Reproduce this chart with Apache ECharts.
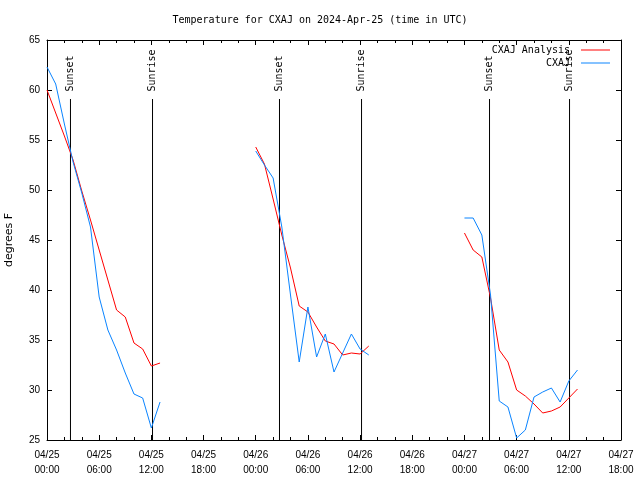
<!DOCTYPE html>
<html><head><meta charset="utf-8">
<script src="https://cdn.jsdelivr.net/npm/echarts@6/dist/echarts.min.js"></script>
<style>html,body{margin:0;padding:0;background:#fff}#c{width:640px;height:480px}</style>
</head><body><div id="c"></div>
<script>
const titleText = 'Temperature for CXAJ on 2024-Apr-25 (time in UTC)';
const axisStart = '2024-04-25T00:00Z';
const obsTimes = [
  '2024-04-25T00:00Z','2024-04-25T01:00Z','2024-04-25T02:00Z','2024-04-25T03:00Z','2024-04-25T04:00Z','2024-04-25T05:00Z','2024-04-25T06:00Z',
  '2024-04-25T07:00Z','2024-04-25T08:00Z','2024-04-25T09:00Z','2024-04-25T10:00Z','2024-04-25T11:00Z','2024-04-25T12:00Z','2024-04-25T13:00Z',
  '2024-04-26T00:00Z','2024-04-26T01:00Z','2024-04-26T02:00Z','2024-04-26T03:00Z','2024-04-26T04:00Z','2024-04-26T05:00Z','2024-04-26T06:00Z',
  '2024-04-26T07:00Z','2024-04-26T08:00Z','2024-04-26T09:00Z','2024-04-26T10:00Z','2024-04-26T11:00Z','2024-04-26T12:00Z','2024-04-26T13:00Z',
  '2024-04-27T00:00Z','2024-04-27T01:00Z','2024-04-27T02:00Z','2024-04-27T03:00Z','2024-04-27T04:00Z','2024-04-27T05:00Z','2024-04-27T06:00Z',
  '2024-04-27T07:00Z','2024-04-27T08:00Z','2024-04-27T09:00Z','2024-04-27T10:00Z','2024-04-27T11:00Z','2024-04-27T12:00Z','2024-04-27T13:00Z'
];
const analysisValues = [
  60.0, 57.7, 55.4, 53.0, 49.9, 47.0, 44.0, 41.0, 38.0, 37.3, 34.7, 34.1, 32.4, 32.7,
  54.3, 52.6, 49.1, 45.5, 42.2, 38.4, 37.8, 36.3, 34.9, 34.6, 33.5, 33.7, 33.6, 34.4,
  45.7, 44.0, 43.3, 39.2, 34.0, 32.8, 30.0, 29.4, 28.6, 27.7, 27.9, 28.3, 29.2, 30.1
];
const stationValues = [
  62.3, 60.6, 56.6, 52.8, 49.7, 46.3, 39.3, 36.0, 34.0, 31.7, 29.6, 29.2, 26.2, 28.8,
  53.9, 52.5, 51.2, 46.3, 39.5, 32.8, 38.3, 33.3, 35.6, 31.8, 33.7, 35.6, 34.1, 33.5,
  47.2, 47.2, 45.5, 39.5, 28.9, 28.3, 25.2, 26.0, 29.3, 29.8, 30.2, 28.8, 30.9, 32.0
];
const sunTimes = ['2024-04-25T02:42Z','2024-04-25T12:08Z','2024-04-26T02:44Z','2024-04-26T12:10Z','2024-04-27T02:53Z','2024-04-27T12:05Z'];
const sunLabels = ['Sunset','Sunrise','Sunset','Sunrise','Sunset','Sunrise'];
const sunLineTop = 59.1;
const xTickLabels = ['04/25\n00:00','04/25\n06:00','04/25\n12:00','04/25\n18:00','04/26\n00:00','04/26\n06:00',
  '04/26\n12:00','04/26\n18:00','04/27\n00:00','04/27\n06:00','04/27\n12:00','04/27\n18:00'];
const seriesNames = ['CXAJ Analysis', 'CXAJ'];
const seriesColors = ['#ff0000', '#0a84ff'];

const t0 = Date.parse(axisStart);
const toH = s => (Date.parse(s) - t0) / 3600000;
function buildLine(vals) {
  const out = [];
  for (let i = 0; i < obsTimes.length; i++) {
    if (i > 0 && toH(obsTimes[i]) - toH(obsTimes[i - 1]) > 1.5) out.push([toH(obsTimes[i]) - 0.5, null]);
    out.push([toH(obsTimes[i]), vals[i]]);
  }
  return out;
}
const mono = 'DejaVu Sans Mono';
const sans = 'Liberation Sans';
const axisCommon = {
  type: 'value', min: 0, max: 66, interval: 6,
  axisLine: { show: true, onZero: false, lineStyle: { color: '#000', width: 1 } },
  axisTick: { show: true, inside: true, length: 5, lineStyle: { color: '#000' } },
  minorTick: { show: true, splitNumber: 3, length: 3, lineStyle: { color: '#000' } },
  splitLine: { show: false }
};
const yCommon = {
  type: 'value', min: 25, max: 65, interval: 5,
  axisLine: { show: true, onZero: false, lineStyle: { color: '#000', width: 1 } },
  axisTick: { show: true, inside: true, length: 5, lineStyle: { color: '#000' } },
  splitLine: { show: false }
};
const series = [
  { name: seriesNames[0], type: 'line', data: buildLine(analysisValues), showSymbol: false, symbol: 'none',
    lineStyle: { color: seriesColors[0], width: 1 }, itemStyle: { color: seriesColors[0] }, connectNulls: false, animation: false, z: 3 },
  { name: seriesNames[1], type: 'line', data: buildLine(stationValues), showSymbol: false, symbol: 'none',
    lineStyle: { color: seriesColors[1], width: 1 }, itemStyle: { color: seriesColors[1] }, connectNulls: false, animation: false, z: 4 }
];
sunTimes.forEach((s, i) => {
  series.push({
    type: 'line', symbol: 'circle', symbolSize: 1, showSymbol: true, animation: false, silent: true, z: 2,
    lineStyle: { color: '#000', width: 1 }, itemStyle: { color: 'rgba(0,0,0,0)', borderWidth: 0 },
    data: [{ value: [toH(s), 25] }, { value: [toH(s), sunLineTop],
      label: { show: true, position: 'top', distance: 6, rotate: 90, align: 'left', verticalAlign: 'middle',
        formatter: sunLabels[i], fontFamily: mono, fontSize: 10, color: '#000', offset: [1, 0] } }]
  });
});
const legendCommon = { right: 30, align: 'right', icon: 'rect', itemWidth: 29, itemHeight: 1, padding: 0,
  textStyle: { fontFamily: mono, fontSize: 10, color: '#000', padding: [0, 6, 0, 0] }, selectedMode: false };
const chart = echarts.init(document.getElementById('c'), null, { renderer: 'canvas' });
chart.setOption({
  animation: false,
  backgroundColor: '#fff',
  title: { text: titleText, left: 'center', top: 15, padding: 0,
    textStyle: { fontFamily: mono, fontSize: 10, fontWeight: 'normal', color: '#000' } },
  legend: [
    Object.assign({}, legendCommon, { data: [{ name: seriesNames[0], itemStyle: { color: seriesColors[0] } }], top: 45 }),
    Object.assign({}, legendCommon, { data: [{ name: seriesNames[1], itemStyle: { color: seriesColors[1] } }], top: 58 })
  ],
  grid: { left: 47, right: 19, top: 40, bottom: 40, containLabel: false, outerBoundsMode: 'none' },
  xAxis: [
    Object.assign({}, axisCommon, { position: 'bottom',
      axisLabel: { show: true, margin: 8, fontFamily: sans, fontSize: 10, color: '#000', lineHeight: 15,
        formatter: v => xTickLabels[Math.round(v / 6)] || '' } }),
    Object.assign({}, axisCommon, { position: 'top', axisLabel: { show: false } })
  ],
  yAxis: [
    Object.assign({}, yCommon, { position: 'left', name: 'degrees F', nameLocation: 'middle', nameGap: 32, nameRotate: 90,
      nameTextStyle: { fontFamily: 'DejaVu Sans', fontSize: 11, color: '#000' },
      axisLabel: { show: true, margin: 7, fontFamily: sans, fontSize: 10, color: '#000' } }),
    Object.assign({}, yCommon, { position: 'right', axisLabel: { show: false } })
  ],
  series: series
});
</script></body></html>
